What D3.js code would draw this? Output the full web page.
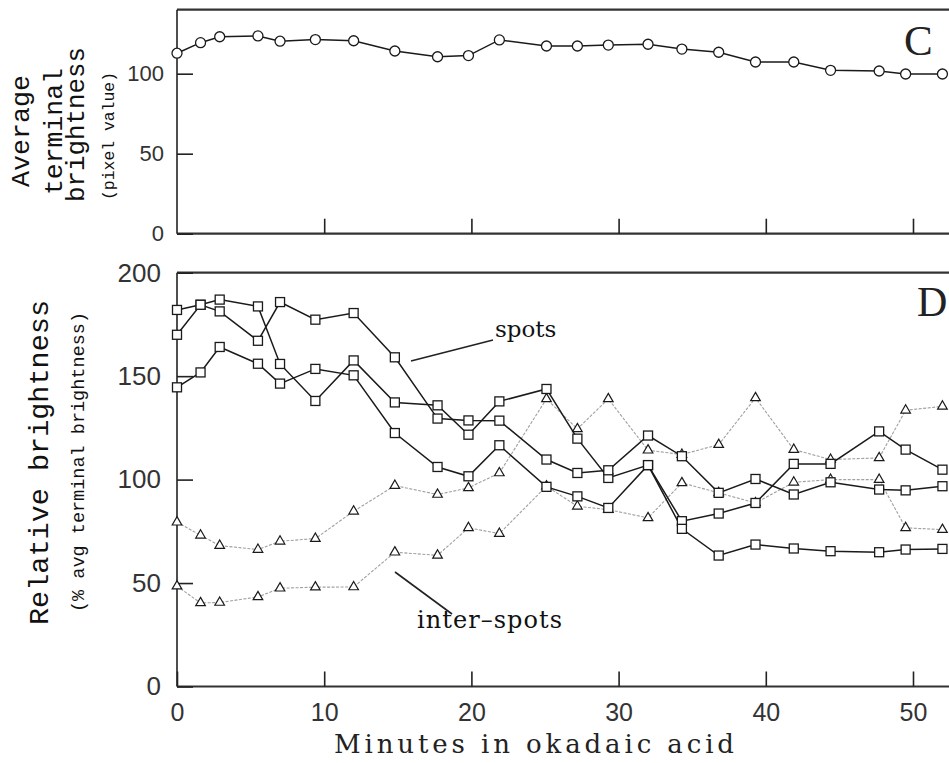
<!DOCTYPE html>
<html>
<head>
<meta charset="utf-8">
<script src="https://cdn.jsdelivr.net/npm/d3@7"></script>
<style>
body { margin:0; background:#fff; }
svg { display:block; }
</style>
</head>
<body>
<svg id="chart" width="949" height="763"></svg>
<script>
// sampling times (minutes in okadaic acid)
var minutes = [0,1.6,2.9,5.5,7.0,9.4,12.0,14.8,17.7,19.8,21.9,25.1,27.2,29.3,32.0,34.3,36.8,39.3,41.9,44.4,47.7,49.5,52.0];

// panel C: average terminal brightness (pixel value)
var avgBrightness = [112.8,119.4,123.1,123.6,120.3,121.3,120.6,114.2,110.6,111.3,121.1,117.3,117.3,117.9,118.4,115.4,113.4,107.3,107.3,102.1,101.7,99.8,99.8];

// panel D: relative brightness, spots (squares)
var spotsA = [182,184.5,187,183.7,155.9,138,157.6,137.3,135.9,121.7,137.8,143.8,119.8,100.8,107,79.9,83.6,88.7,107.6,107.6,123.3,114.5,104.8];
var spotsB = [170,184.5,181.3,167.1,185.8,177.3,180.5,159.1,129.5,128.6,128.5,109.7,103.2,104.5,121.3,111.3,93.6,100.3,92.8,98.7,95.2,94.8,96.8];
var spotsC = [144.6,151.8,164.1,156,146.4,153.5,150.4,122.5,106.1,101.6,116.6,96.5,91.9,86.3,107,76.2,63.3,68.6,66.7,65.4,64.9,66.2,66.5];

// panel D: inter-spots (triangles)
var interA = [79.4,73.1,68.1,66.2,70.2,71.5,84.7,97.1,92.8,96,103.2,139,124.5,139,114.2,112.1,116.9,139.5,114.5,109.7,110.5,133.5,135.4];
var interB = [48.5,40.4,40.6,43.3,47.5,48,48.1,64.9,63.4,76.7,73.9,96.8,87.1,85.5,81.5,98.4,93.6,88.7,98.7,100,100,76.7,75.8];

var xTicks = [0,10,20,30,40,50];
var topTicks = [0,50,100];
var bottomTicks = [0,50,100,150,200];

var svg = d3.select("#chart");
var ink = "#1a1a1a";
var rightEdge = 960;

var x = d3.scaleLinear().domain([0,50]).range([177,913]);
var yTop = d3.scaleLinear().domain([0,140]).range([233.7,9.7]);
var yBot = d3.scaleLinear().domain([0,200]).range([686.5,272.7]);

var sans = "'Liberation Sans', Arial, sans-serif";
var mono = "'Liberation Mono', 'Courier New', monospace";
var serif = "'DejaVu Serif', serif";

// ---- frames
var frame = function(y){
    svg.append("line").attr("x1",x(0)).attr("x2",rightEdge)
	.attr("y1",y.range()[1]).attr("y2",y.range()[1])
	.attr("stroke","#333").attr("stroke-width",2.2);
    svg.append("line").attr("x1",x(0)).attr("x2",rightEdge)
	.attr("y1",y.range()[0]).attr("y2",y.range()[0])
	.attr("stroke","#333").attr("stroke-width",2.2);
    svg.append("line").attr("x1",x(0)).attr("x2",x(0))
	.attr("y1",y.range()[1]).attr("y2",y.range()[0])
	.attr("stroke","#222").attr("stroke-width",1.6);
};
frame(yTop);
frame(yBot);

// ---- axes
var styleAxis = function(g,size){
    g.select(".domain").remove();
    g.selectAll(".tick line").attr("stroke","#222").attr("stroke-width",1.6);
    g.selectAll(".tick text").attr("fill","#333")
	.style("font-family",sans).style("font-size",size+"px");
};

svg.append("g").attr("transform","translate(0,"+yTop(0)+")")
    .call(d3.axisBottom(x).tickValues(xTicks.slice(1)).tickSize(-15).tickFormat(""))
    .call(styleAxis,22);

svg.append("g").attr("transform","translate("+x(0)+",0)")
    .call(d3.axisLeft(yTop).tickValues(topTicks).tickSize(-16).tickPadding(13))
    .call(styleAxis,22);

svg.append("g").attr("transform","translate(0,"+yBot(0)+")")
    .call(d3.axisBottom(x).tickValues(xTicks).tickSize(-15).tickPadding(17))
    .call(styleAxis,25);

svg.append("g").attr("transform","translate("+x(0)+",0)")
    .call(d3.axisLeft(yBot).tickValues(bottomTicks).tickSize(-16).tickPadding(16))
    .call(styleAxis,26);

// ---- panel C
var lineTop = d3.line().x(function(d,i){ return x(minutes[i]); }).y(function(d){ return yTop(d); });
svg.append("path").datum(avgBrightness).attr("d",lineTop)
    .attr("fill","none").attr("stroke",ink).attr("stroke-width",1.5);
svg.selectAll(".circ").data(avgBrightness).enter().append("circle")
    .attr("class","circ")
    .attr("cx",function(d,i){ return x(minutes[i]); })
    .attr("cy",function(d){ return yTop(d); })
    .attr("r",5).attr("fill","#fff").attr("stroke",ink).attr("stroke-width",1.3);

// ---- panel D
var lineBot = d3.line().x(function(d,i){ return x(minutes[i]); }).y(function(d){ return yBot(d); });

[interA,interB].forEach(function(s){
    svg.append("path").datum(s).attr("d",lineBot)
	.attr("fill","none").attr("stroke","#a0a0a0").attr("stroke-width",1.1)
	.attr("stroke-dasharray","3,1.5");
});

var tri = d3.symbol().type(d3.symbolTriangle).size(40);
[interA,interB].forEach(function(s){
    svg.append("g").selectAll("path").data(s).enter().append("path")
	.attr("d",tri)
	.attr("transform",function(d,i){ return "translate("+x(minutes[i])+","+yBot(d)+")"; })
	.attr("fill","#fff").attr("stroke",ink).attr("stroke-width",1.2);
});

[spotsA,spotsB,spotsC].forEach(function(s){
    svg.append("path").datum(s).attr("d",lineBot)
	.attr("fill","none").attr("stroke",ink).attr("stroke-width",1.5);
});

[spotsA,spotsB,spotsC].forEach(function(s){
    svg.append("g").selectAll("rect").data(s).enter().append("rect")
	.attr("x",function(d,i){ return x(minutes[i])-4.5; })
	.attr("y",function(d){ return yBot(d)-4.5; })
	.attr("width",9).attr("height",9)
	.attr("fill","#fff").attr("stroke",ink).attr("stroke-width",1.3);
});

// ---- annotations
svg.append("line").attr("x1",411).attr("y1",361).attr("x2",493).attr("y2",340)
    .attr("stroke","#222").attr("stroke-width",1.6);
svg.append("text").attr("x",495).attr("y",337).text("spots")
    .style("font-family",serif).style("font-size","23px").attr("fill","#111");

svg.append("line").attr("x1",395).attr("y1",572).attr("x2",452).attr("y2",614)
    .attr("stroke","#222").attr("stroke-width",1.6);
svg.append("text").attr("x",417).attr("y",628).text("inter–spots")
    .attr("textLength",145).attr("lengthAdjust","spacing")
    .style("font-family",serif).style("font-size","24px").attr("fill","#111");

// panel letters
svg.append("text").attr("x",904).attr("y",55).text("C")
    .style("font-family","'Liberation Serif', serif").style("font-size","43px").attr("fill","#222");
svg.append("text").attr("x",917).attr("y",316).text("D")
    .style("font-family","'Liberation Serif', serif").style("font-size","42px").attr("fill","#222");

// ---- axis titles
var vtext = function(txt,cx,cy,size,len){
    svg.append("text")
	.attr("transform","translate("+cx+","+cy+") rotate(-90)")
	.attr("text-anchor","middle")
	.attr("textLength",len).attr("lengthAdjust","spacingAndGlyphs")
	.style("font-family",mono).style("font-size",size+"px").attr("fill","#111")
	.text(txt);
};
vtext("Average",29,131,26,112);
vtext("terminal",62,131.5,26,127);
vtext("brightness",84,124.5,26,155);
vtext("(pixel value)",114,136,17,128);
vtext("Relative brightness",48,462.5,28,325);
vtext("(% avg terminal brightness)",84,462,18,300);

svg.append("text").attr("x",534).attr("y",753).attr("text-anchor","middle")
    .attr("textLength",400).attr("lengthAdjust","spacing")
    .style("font-family",serif).style("font-size","26px").attr("fill","#222")
    .text("Minutes in okadaic acid");
</script>
</body>
</html>
